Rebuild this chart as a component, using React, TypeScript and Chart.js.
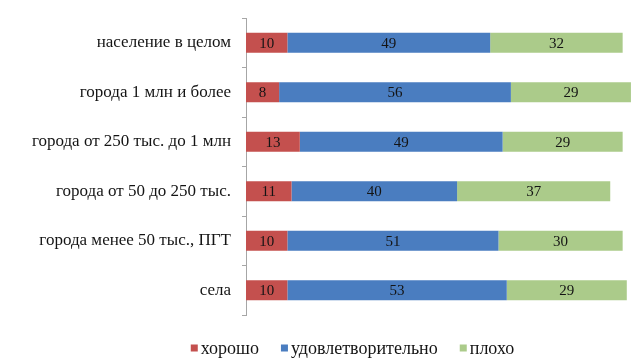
import React, { useEffect, useRef } from "react";
import { Chart, registerables } from "chart.js";

Chart.register(...registerables);

const categories = [
  "население в целом",
  "города 1 млн и более",
  "города от 250 тыс. до 1 млн",
  "города от 50 до 250 тыс.",
  "города менее 50 тыс., ПГТ",
  "села",
];

const goodValues = [10, 8, 13, 11, 10, 10];
const fairValues = [49, 56, 49, 40, 51, 53];
const badValues = [32, 29, 29, 37, 30, 29];

const seriesNames = ["хорошо", "удовлетворительно", "плохо"];
const seriesColors = ["#C4504E", "#4A7DC0", "#ABCB8A"];

const FONT = "'Liberation Serif', 'Times New Roman', serif";

// Writes each segment's value in the middle of its bar
const segmentValues = {
  id: "segmentValues",
  afterDatasetsDraw(chart: any) {
    const ctx = chart.ctx;
    ctx.save();
    ctx.font = `15px ${FONT}`;
    ctx.fillStyle = "#141414";
    ctx.textAlign = "center";
    ctx.textBaseline = "middle";
    chart.data.datasets.forEach((ds: any, di: number) => {
      const meta = chart.getDatasetMeta(di);
      meta.data.forEach((bar: any, i: number) => {
        const { x, y, base } = bar.getProps(["x", "y", "base"], true);
        ctx.fillText(String(ds.data[i]), (x + base) / 2, y + 1);
      });
    });
    ctx.restore();
  },
};

// Compact legend row under the plot: small square, tight gap, series name
const bottomLegend = {
  id: "bottomLegend",
  afterDraw(chart: any) {
    const ctx = chart.ctx;
    const box = 7;
    const gap = 3;
    const spacing = 22;
    const centerX = 352.5;
    const midY = 348;
    ctx.save();
    ctx.font = `18px ${FONT}`;
    ctx.textBaseline = "middle";
    ctx.textAlign = "left";
    const items = chart.data.datasets.map((ds: any) => ({
      text: ds.label,
      color: ds.backgroundColor,
      w: ctx.measureText(ds.label).width,
    }));
    const total =
      items.reduce((s: number, it: any) => s + box + gap + it.w, 0) +
      spacing * (items.length - 1);
    let x = centerX - total / 2;
    items.forEach((it: any) => {
      ctx.fillStyle = it.color;
      ctx.fillRect(x, midY - box / 2, box, box);
      ctx.fillStyle = "#141414";
      ctx.fillText(it.text, x + box + gap, midY + 1);
      x += box + gap + it.w + spacing;
    });
    ctx.restore();
  },
};

export default function App() {
  const canvasRef = useRef<HTMLCanvasElement>(null);

  useEffect(() => {
    if (!canvasRef.current) return;
    const values = [goodValues, fairValues, badValues];
    const chart = new Chart(canvasRef.current, {
      type: "bar",
      data: {
        labels: categories,
        datasets: values.map((data, k) => ({
          label: seriesNames[k],
          data,
          backgroundColor: seriesColors[k],
          borderWidth: 0,
          barPercentage: 0.4,
          categoryPercentage: 1,
        })),
      },
      options: {
        indexAxis: "y",
        responsive: false,
        animation: false,
        layout: { padding: { top: 18, left: 0, right: 0, bottom: 0 } },
        scales: {
          x: {
            stacked: true,
            min: 0,
            max: 93.5,
            ticks: { display: false },
            grid: { display: false },
            border: { display: false },
            afterFit: (axis: any) => {
              axis.height = 43;
            },
          },
          y: {
            stacked: true,
            ticks: {
              color: "#141414",
              font: { family: FONT, size: 17 },
              padding: 11,
            },
            grid: {
              drawOnChartArea: false,
              drawTicks: true,
              tickLength: 4,
              color: "#A6A6A6",
            },
            border: { display: true, color: "#A6A6A6", width: 1 },
            afterFit: (axis: any) => {
              axis.width = 246;
              axis.paddingTop = 0;
              axis.paddingBottom = 0;
            },
          },
        },
        plugins: {
          legend: { display: false },
          tooltip: { enabled: false },
        },
      },
      plugins: [segmentValues, bottomLegend],
    });
    return () => chart.destroy();
  }, []);

  return (
    <div style={{ position: "fixed", left: 0, top: 0, width: 633, height: 358, background: "#fff" }}>
      <canvas ref={canvasRef} width={633} height={358} style={{ display: "block" }} />
    </div>
  );
}
